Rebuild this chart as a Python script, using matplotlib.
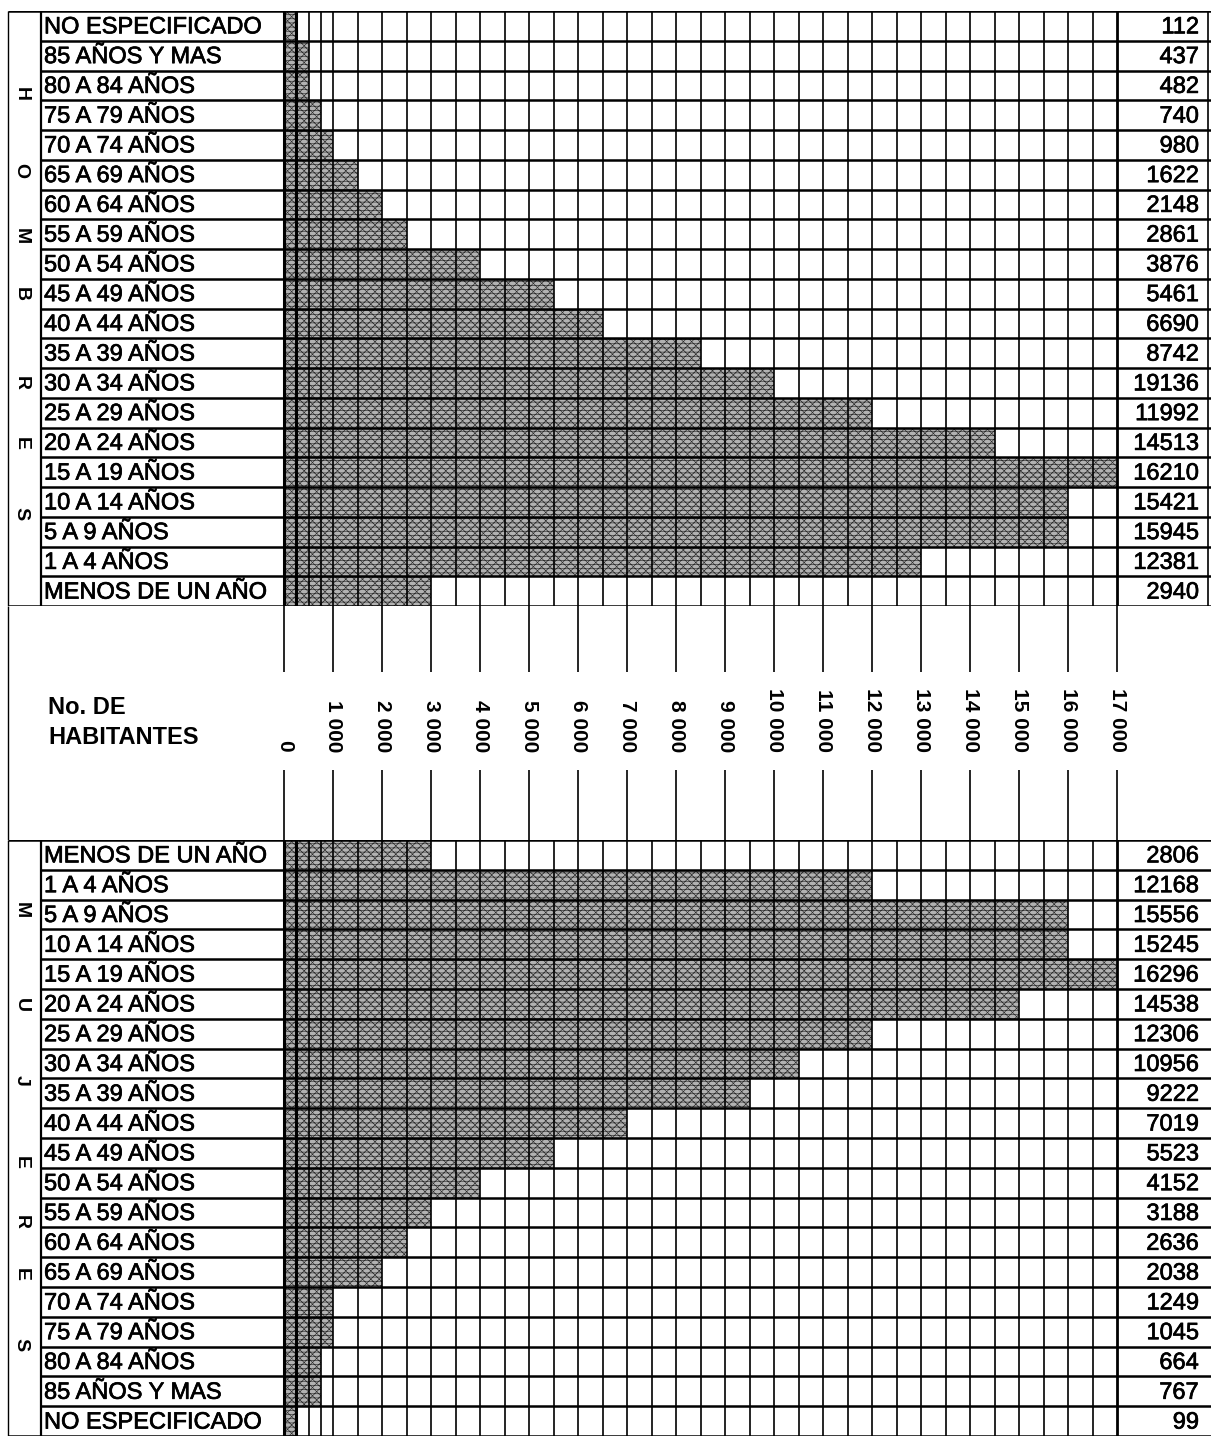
import matplotlib
matplotlib.use('Agg')
import matplotlib.pyplot as plt
import matplotlib.patheffects as pe
import numpy as np

plt.rcParams['font.family'] = ['Liberation Sans', 'DejaVu Sans']
plt.rcParams['hatch.linewidth'] = 0.45
plt.rcParams['hatch.color'] = '#2a2a2a'

# ---------------- data ----------------
grupos_hombres = ["NO ESPECIFICADO", "85 AÑOS Y MAS", "80 A 84 AÑOS", "75 A 79 AÑOS",
                  "70 A 74 AÑOS", "65 A 69 AÑOS", "60 A 64 AÑOS", "55 A 59 AÑOS",
                  "50 A 54 AÑOS", "45 A 49 AÑOS", "40 A 44 AÑOS", "35 A 39 AÑOS",
                  "30 A 34 AÑOS", "25 A 29 AÑOS", "20 A 24 AÑOS", "15 A 19 AÑOS",
                  "10 A 14 AÑOS", "5 A 9 AÑOS", "1 A 4 AÑOS", "MENOS DE UN AÑO"]
hombres_valor = [112, 437, 482, 740, 980, 1622, 2148, 2861, 3876, 5461,
                 6690, 8742, 19136, 11992, 14513, 16210, 15421, 15945, 12381, 2940]
# drawn bar lengths
hombres_barra = [250, 500, 500, 750, 1000, 1500, 2000, 2500, 4000, 5500,
                 6500, 8500, 10000, 12000, 14500, 17000, 16000, 16000, 13000, 3000]

grupos_mujeres = ["MENOS DE UN AÑO", "1 A 4 AÑOS", "5 A 9 AÑOS", "10 A 14 AÑOS",
                  "15 A 19 AÑOS", "20 A 24 AÑOS", "25 A 29 AÑOS", "30 A 34 AÑOS",
                  "35 A 39 AÑOS", "40 A 44 AÑOS", "45 A 49 AÑOS", "50 A 54 AÑOS",
                  "55 A 59 AÑOS", "60 A 64 AÑOS", "65 A 69 AÑOS", "70 A 74 AÑOS",
                  "75 A 79 AÑOS", "80 A 84 AÑOS", "85 AÑOS Y MAS", "NO ESPECIFICADO"]
mujeres_valor = [2806, 12168, 15556, 15245, 16296, 14538, 12306, 10956, 9222, 7019,
                 5523, 4152, 3188, 2636, 2038, 1249, 1045, 664, 767, 99]
mujeres_barra = [3000, 12000, 16000, 16000, 17000, 15000, 12000, 10500, 9500, 7000,
                 5500, 4000, 3000, 2500, 2000, 1000, 1000, 750, 750, 250]

tick_valores = [0, 1000, 2000, 3000, 4000, 5000, 6000, 7000, 8000, 9000,
                10000, 11000, 12000, 13000, 14000, 15000, 16000, 17000]
tick_etiquetas = ["0", "1 000", "2 000", "3 000", "4 000", "5 000", "6 000", "7 000",
                  "8 000", "9 000", "10 000", "11 000", "12 000", "13 000", "14 000",
                  "15 000", "16 000", "17 000"]
letras_hombres = ["H", "O", "M", "B", "R", "E", "S"]
letras_mujeres = ["M", "U", "J", "E", "R", "E", "S"]
titulo_eje = ["No. DE", "HABITANTES"]

# ---------------- layout (pixels) ----------------
W, H, DPI = 1211, 1436, 100
X0_PX = 284.0
PX_PER_UNIT = 0.049


def dx(px):
    return (px - X0_PX) / PX_PER_UNIT


XMIN, XMAX = dx(0), dx(W)
FRAME_X = dx(8)
LABEL_X = dx(41)
TEXT_X = dx(44)
VALUE_X = dx(1199)
LETTER_X = dx(21)
XEND = 17000

TOP_SEC = (11, 606)
BOT_SEC = (840, 1436)
letras_y_hombres = [94, 171, 236, 294, 383, 443, 514]
letras_y_mujeres = [910, 1005, 1080, 1162, 1222, 1275, 1345]

grid_x = [0, 250, 500, 750] + list(np.arange(1000, 17001, 500))

BAR_FACE = '#b2b2b2'
FS = 17
HEAVY = [pe.withStroke(linewidth=0.5, foreground='black')]

fig = plt.figure(figsize=(W / DPI, H / DPI), dpi=DPI)
fig.patch.set_facecolor('white')


def add_ax(top_px, bot_px):
    ax = fig.add_axes([0, 1 - bot_px / H, 1, (bot_px - top_px) / H])
    ax.set_xlim(XMIN, XMAX)
    ax.axis('off')
    return ax


def section(sec, grupos, valores, barras, letras, letras_y, right_border):
    top_px, bot_px = sec
    n = len(grupos)
    ax = add_ax(top_px, bot_px)
    ax.set_ylim(n, 0)
    row_h = (bot_px - top_px) / n
    ypos = np.arange(n) + 0.5
    ax.barh(ypos, barras, height=1.0, left=0, color=BAR_FACE, hatch='xxxx----',
            linewidth=0, zorder=1)
    # vertical grid
    for gx in grid_x:
        lw = 2.2 if gx in (0, 250) else 1.2
        if gx == XEND:
            lw = 2.0
        ax.vlines(gx, 0, n, color='black', lw=lw, zorder=3)
    ax.vlines([FRAME_X], 0, n, color='black', lw=1.0, zorder=3)
    ax.vlines([LABEL_X], 0, n, color='black', lw=1.6, zorder=3)
    if right_border:
        ax.vlines([dx(1208)], 0, n, color='black', lw=1.2, zorder=3)
    # row lines
    ax.hlines(np.arange(1, n), LABEL_X, XMAX, color='black', lw=1.8, zorder=3)
    ax.hlines([0, n], FRAME_X, XMAX, color='black', lw=1.8, zorder=3)
    for i, (g, v) in enumerate(zip(grupos, valores)):
        ax.text(TEXT_X, i + 0.55, g, ha='left', va='center', fontsize=FS, zorder=4,
                path_effects=HEAVY)
        ax.text(VALUE_X, i + 0.55, str(v), ha='right', va='center', fontsize=FS,
                zorder=4, path_effects=HEAVY)
    for l, py in zip(letras, letras_y):
        ax.text(LETTER_X, (py - top_px) / row_h, l, rotation=-90, ha='center',
                va='center', fontsize=14, fontweight='bold', zorder=4)
    return ax


section(TOP_SEC, grupos_hombres, hombres_valor, hombres_barra,
        letras_hombres, letras_y_hombres, True)
section(BOT_SEC, grupos_mujeres, mujeres_valor, mujeres_barra,
        letras_mujeres, letras_y_mujeres, False)

# middle axis section
mt, mb = TOP_SEC[1], BOT_SEC[0]
axm = add_ax(mt, mb)
axm.set_ylim(mb, mt)
axm.vlines(tick_valores, mt, 672, color='black', lw=1.2)
axm.vlines(tick_valores, 770, mb, color='black', lw=1.2)
axm.vlines([FRAME_X], mt, mb, color='black', lw=1.0)
for tv, tl in zip(tick_valores, tick_etiquetas):
    axm.text(tv + 3, 752, tl, rotation=-90, ha='center', va='bottom',
             fontsize=15, fontweight='bold')
axm.text(dx(48), 708, titulo_eje[0], ha='left', va='center', fontsize=17,
         fontweight='bold')
axm.text(dx(48), 738, titulo_eje[1], ha='left', va='center', fontsize=17,
         fontweight='bold')

fig.savefig('out.png', dpi=DPI, facecolor='white')
